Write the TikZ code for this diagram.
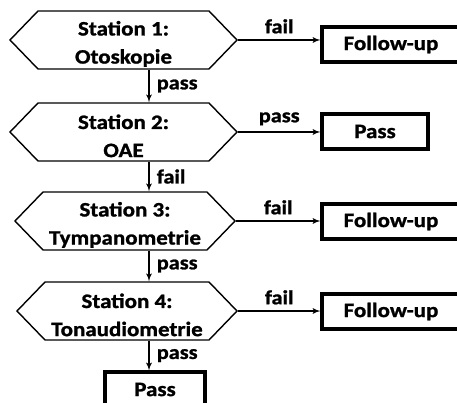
\documentclass[tikz,border=0pt]{standalone}
\usepackage{fontspec}
\setmainfont{Carlito}[FakeStretch=1.12, BoldFeatures={FakeBold=1.2}]
\usetikzlibrary{arrows}
\usetikzlibrary{shapes.symbols}
\tikzset{
    tnode/.style = {align=center, inner sep=0pt, text centered, font=\bfseries\fontsize{17.5}{24}\selectfont},
    station/.style = {tnode, signal, signal to=west and east, signal pointer angle=92, draw=black, line width=1.2pt, minimum width=6.81cm, minimum height=1.74cm, execute at begin node={\rule{0pt}{43pt}}},
    result/.style = {tnode, rectangle, draw=black, line width=2.6pt, minimum height=1.05cm},
    lbl/.style = {tnode, font=\bfseries\fontsize{17}{18}\selectfont}
}

\begin{document}
\begin{tikzpicture}
            [x=0.03cm, y=-0.03cm, >=latex', line width=1.3pt]

            \useasboundingbox (0,0) rectangle (457,403);

            % stations
            \node [station] (s1) at (123.5,40) {Station 1:\\Otoskopie};
            \node [station] (s2) at (123.5,132) {Station 2:\\OAE};
            \node [station, minimum width=6.6cm] (s3) at (125,221) {Station 3:\\Tympanometrie};
            \node [station, minimum width=6.6cm] (s4) at (127,311) {Station 4:\\Tonaudiometrie};

            % outcomes
            \node [result, minimum width=4.14cm] (f1) at (391,44.5) {Follow-up};
            \node [result, minimum width=3.18cm] (p2) at (375,131.5) {Pass};
            \node [result, minimum width=4.14cm] (f3) at (391,221.5) {Follow-up};
            \node [result, minimum width=4.14cm] (f4) at (391,311.5) {Follow-up};
            \node [result, minimum width=3cm] (p5) at (155,389.5) {Pass};

            \coordinate (v) at (149,0);

            \draw [->] (s1.south -| v) -- node [lbl, right=6pt] {pass} (s2.north -| v);
            \draw [->] (s2.south -| v) -- node [lbl, right=6pt] {fail} (s3.north -| v);
            \draw [->] (s3.south -| v) -- node [lbl, right=6pt] {pass} (s4.north -| v);
            \draw [->] (s4.south -| v) -- node [lbl, right=6pt] {pass} (p5.north -| v);

            \draw [->] (s1.east) -- node [lbl, above=5pt] {fail} (s1.east -| f1.west);
            \draw [->] (s2.east) -- node [lbl, above=5pt] {pass} (s2.east -| p2.west);
            \draw [->] (s3.east) -- node [lbl, above=5pt] {fail} (s3.east -| f3.west);
            \draw [->] (s4.east) -- node [lbl, above=5pt] {fail} (s4.east -| f4.west);
\end{tikzpicture}
\end{document}
